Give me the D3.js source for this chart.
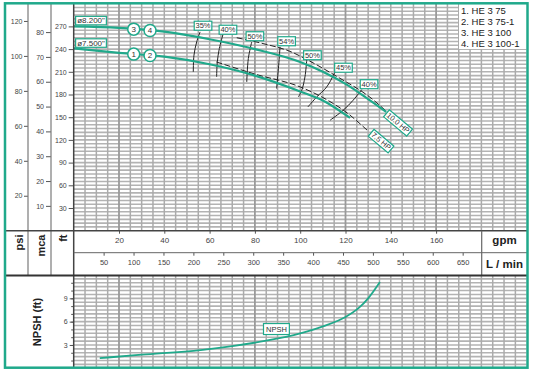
<!DOCTYPE html>
<html><head><meta charset="utf-8">
<script src="https://cdn.jsdelivr.net/npm/d3@7"></script>
<style>body{margin:0;background:#fff} svg{display:block;font-family:"Liberation Sans",Arial,sans-serif}</style>
</head><body><svg id="c" width="534" height="375"></svg>
<script>
// ---------- data ----------
const curve82Gpm = [0, 20, 40, 60, 80, 100, 110, 120, 130, 138];
const curve82Ft  = [270, 268, 263, 253, 240, 223, 210, 194, 174, 157];
const curve75Gpm = [0, 20, 40, 60, 80, 100, 110, 122];
const curve75Ft  = [241, 235, 230, 220, 205, 184, 172, 149];
const hp10Gpm = [72, 84, 95.5, 104.3, 117.5, 130.8, 138, 146];
const hp10Ft  = [255, 247, 237, 224, 201.5, 176.4, 158, 136];
const hp75Gpm = [63, 80, 100, 110, 121, 129.5];
const hp75Ft  = [223, 207, 190, 176, 155, 133];
const effLabels = ["35%", "40%", "50%", "54%", "50%", "45%", "40%"];
const effArcGpm = [[55.8,54.3,53.1,52.8],[65.9,64.3,63.4,63.1],[78.6,77.1,76.4],[91.1,90.5,89.6],[102.9,102.1,100.7,99.2],[115.4,111.7,107.3,103.4],[127.2,123.4,119.0,113.2]];
const effArcFt  = [[262.7,249.5,231.9,209.9],[259.3,240.8,223.1,203.3],[249.5,227.6,196.6],[242.9,218.7,187.9],[226.2,203.3,185.7,176.8],[209.9,190.0,176.8,163.6],[186.6,172.5,159.2,146.0]];
const effLabelGpm = [57.1, 68.1, 80, 94, 105.4, 119.1, 130.4];
const effLabelFt  = [270.9, 265.6, 257, 250.4, 231.9, 215.4, 193.6];
const npshGpm = [11.5, 30, 56, 70, 85, 100, 110, 120, 126, 130, 135.2];
const npshFt  = [1.3, 1.75, 2.35, 2.85, 3.55, 4.5, 5.4, 6.6, 7.8, 9.0, 11.1];
const gpmTicks  = [20, 40, 60, 80, 100, 120, 140, 160];
const lminTicks = [50, 100, 150, 200, 250, 300, 350, 400, 450, 500, 550, 600, 650];
const ftTicks   = [30, 60, 90, 120, 150, 180, 210, 240, 270];
const psiTicks  = [20, 40, 60, 80, 100, 120];
const mcaTicks  = [10, 20, 30, 40, 50, 60, 70, 80];
const npshTicks = [3, 6, 9];
const legendItems = ["1. HE 3 75", "2. HE 3 75-1", "3. HE 3 100", "4. HE 3 100-1"];
const impellerLabels = ['ø8.200"', 'ø7.500"'];
const hpLabels = ["10.0 HP", "7.5 HP"];
const hpLabelGpm = [143.2, 135.7];
const hpLabelFt  = [142.4, 118.3];
const markerGpm = [26.5, 33.7];
const markerTop = ["3", "4"];
const markerBottom = ["1", "2"];
const npshLabelGpm = 89.5, npshLabelFt = 5.05;
const majorGpmLines = [20, 80, 120, 160];
const LPM_PER_GPM = 3.785, FT_PER_PSI = 2.31, FT_PER_M = 3.281;

// ---------- setup ----------
const TEAL = "#20a98b";
const svg = d3.select("#c");
const X0 = 73.7, X1 = 526.7, YT = 3.7, YB = 230.7, NT = 276, NB = 367;
const x  = d3.scaleLinear().domain([0, 200]).range([X0, X1]);
const xL = d3.scaleLinear().domain([0, 200 * LPM_PER_GPM]).range([X0, X1]);
const yFt  = d3.scaleLinear().domain([0, 300]).range([YB, YT]);
const yPsi = d3.scaleLinear().domain([0, 300 / FT_PER_PSI]).range([YB, YT]);
const yMca = d3.scaleLinear().domain([0, 300 / FT_PER_M]).range([YB, YT]);
const yN   = d3.scaleLinear().domain([0, 12]).range([368.3, 275]);

svg.append("rect").attr("width", 534).attr("height", 375).attr("fill", "#fff");

const defs = svg.append("defs");
defs.append("clipPath").attr("id", "cm").append("rect").attr("x", X0).attr("y", YT).attr("width", X1 - X0).attr("height", YB - YT);
defs.append("clipPath").attr("id", "cn").append("rect").attr("x", X0).attr("y", NT).attr("width", X1 - X0).attr("height", NB - NT);

// ---------- grids ----------
function grid(g, y0, y1, hVals, yScale) {
  g.selectAll(".h").data(hVals).join("line")
    .attr("x1", X0).attr("x2", X1).attr("y1", d => yScale(d)).attr("y2", d => yScale(d))
    .attr("stroke", "#b3b3b3").attr("stroke-width", 1.6);
  g.selectAll(".v").data(d3.range(5, 200, 5)).join("line")
    .attr("y1", y0).attr("y2", y1).attr("x1", d => x(d)).attr("x2", d => x(d))
    .attr("stroke", d => majorGpmLines.includes(d) ? "#9a9a9a" : "#ababab")
    .attr("stroke-width", d => majorGpmLines.includes(d) ? 1.8 : 1.5);
}
const gm = svg.append("g").attr("clip-path", "url(#cm)");
grid(gm, YT, YB, d3.range(5, 300, 5), yFt);
const gn = svg.append("g").attr("clip-path", "url(#cn)");
grid(gn, NT, NB, d3.range(0.5, 12, 0.5), yN);

// ---------- curves ----------
const zip = (a, b) => a.map((v, i) => [v, b[i]]);
const lineFt = d3.line().x(d => x(d[0])).y(d => yFt(d[1])).curve(d3.curveMonotoneX);
const arcLine = d3.line().x(d => x(d[0])).y(d => yFt(d[1])).curve(d3.curveCatmullRom);

effArcGpm.forEach((arr, i) => {
  gm.append("path").attr("d", arcLine(zip(arr, effArcFt[i])))
    .attr("fill", "none").attr("stroke", "#222").attr("stroke-width", 1);
});
[[hp10Gpm, hp10Ft], [hp75Gpm, hp75Ft]].forEach(([g, f]) => {
  gm.append("path").attr("d", lineFt(zip(g, f)))
    .attr("fill", "none").attr("stroke", "#222").attr("stroke-width", 1).attr("stroke-dasharray", "6,2.5");
});
[[curve82Gpm, curve82Ft], [curve75Gpm, curve75Ft]].forEach(([g, f]) => {
  gm.append("path").attr("d", lineFt(zip(g, f)))
    .attr("fill", "none").attr("stroke", TEAL).attr("stroke-width", 2.2);
});
const lineN = d3.line().x(d => x(d[0])).y(d => yN(d[1])).curve(d3.curveMonotoneX);
gn.append("path").attr("d", lineN(zip(npshGpm, npshFt)))
  .attr("fill", "none").attr("stroke", TEAL).attr("stroke-width", 1.8);

// ---------- labels ----------
function boxLabel(cx, cy, text, fs, rot, padX, h) {
  const g = svg.append("g").attr("transform", `translate(${cx},${cy}) rotate(${rot || 0})`);
  const r = g.append("rect");
  const t = g.append("text").text(text).attr("font-size", fs).attr("text-anchor", "middle")
    .attr("dominant-baseline", "central").attr("fill", "#333");
  const w = t.node().getComputedTextLength() + 2 * padX;
  r.attr("x", -w / 2).attr("y", -h / 2).attr("width", w).attr("height", h)
    .attr("fill", "#fff").attr("stroke", TEAL).attr("stroke-width", 1.2);
}
effLabels.forEach((s, i) => boxLabel(x(effLabelGpm[i]), yFt(effLabelFt[i]), s, 7.5, 0, 1.3, 9));
hpLabels.forEach((s, i) => boxLabel(x(hpLabelGpm[i]), yFt(hpLabelFt[i]), s, 7.5, 40, 1.5, 9));
boxLabel(x(0) + 17.3, yFt(curve82Ft[0]) - 5.8, impellerLabels[0], 8, 0, 1.5, 8.5);
boxLabel(x(0) + 17.3, yFt(curve75Ft[0]) - 5.3, impellerLabels[1], 8, 0, 1.5, 8.5);
boxLabel(x(npshLabelGpm), yN(npshLabelFt), "NPSH", 7.5, 0, 2.5, 11);

function interp(xs, ys, v) {
  for (let i = 1; i < xs.length; i++) if (v <= xs[i]) {
    const t = (v - xs[i - 1]) / (xs[i] - xs[i - 1]); return ys[i - 1] + t * (ys[i] - ys[i - 1]);
  }
  return ys[ys.length - 1];
}
function marker(g, f, label) {
  const m = svg.append("g").attr("transform", `translate(${x(g)},${yFt(f)})`);
  m.append("circle").attr("r", 6).attr("fill", "#fff").attr("stroke", TEAL).attr("stroke-width", 1.5);
  m.append("text").text(label).attr("font-size", 8).attr("text-anchor", "middle")
    .attr("dominant-baseline", "central").attr("fill", "#333");
}
markerGpm.forEach((g, i) => {
  marker(g, interp(curve82Gpm, curve82Ft, g), markerTop[i]);
  marker(g, interp(curve75Gpm, curve75Ft, g), markerBottom[i]);
});

svg.append("rect").attr("x", 459).attr("y", 4).attr("width", 68).attr("height", 45).attr("fill", "#fff");
legendItems.forEach((s, i) => svg.append("text").text(s).attr("x", 461).attr("y", 14 + i * 11.1)
  .attr("font-size", 9.5).attr("fill", "#222"));

// ---------- axes ----------
function styleAxis(g, fs) {
  g.attr("font-family", null).attr("font-size", fs);
  g.select(".domain").remove();
  g.selectAll("text").attr("fill", "#444");
  g.selectAll("line").attr("stroke", "#555");
}
styleAxis(svg.append("g").attr("transform", "translate(28,0)")
  .call(d3.axisLeft(yPsi).tickValues(psiTicks).tickSize(4).tickPadding(1.5)), 7);
styleAxis(svg.append("g").attr("transform", "translate(51,0)")
  .call(d3.axisLeft(yMca).tickValues(mcaTicks).tickSize(5).tickPadding(2)), 7);
styleAxis(svg.append("g").attr("transform", `translate(${X0},0)`)
  .call(d3.axisLeft(yFt).tickValues(ftTicks).tickSize(5).tickPadding(2)), 7);
styleAxis(svg.append("g").attr("transform", `translate(${X0},0)`)
  .call(d3.axisLeft(yN).tickValues(d3.range(1, 12)).tickSize(2.5).tickFormat("")), 7);
styleAxis(svg.append("g").attr("transform", `translate(${X0},0)`)
  .call(d3.axisLeft(yN).tickValues(npshTicks).tickSize(4).tickPadding(2)), 7);
styleAxis(svg.append("g").attr("transform", `translate(0,${YB})`)
  .call(d3.axisBottom(x).tickValues(gpmTicks).tickSize(3).tickPadding(4)), 8);
styleAxis(svg.append("g").attr("transform", "translate(0,252.7)")
  .call(d3.axisBottom(xL).tickValues(lminTicks).tickSize(3).tickPadding(4)), 7.5);

// ---------- frame lines ----------
const L = (x1, y1, x2, y2, c, w) => svg.append("line").attr("x1", x1).attr("y1", y1).attr("x2", x2).attr("y2", y2).attr("stroke", c).attr("stroke-width", w);
L(28, YT, 28, 275.5, "#7a7a7a", 1.2);
L(51, YT, 51, 275.5, "#7a7a7a", 1.2);
L(X0, YT, X0, NB, "#444", 1.5);
L(5, YB, 527, YB, "#444", 1.5);
L(X0, 252.7, 527, 252.7, "#666", 1);
L(481.7, YB, 481.7, 275.5, "#666", 1.2);
L(5, 275.5, 527, 275.5, "#333", 2);

const unitText = (tx, ty, s, fs, anchor) => svg.append("text").text(s)
  .attr("transform", `translate(${tx},${ty}) rotate(-90)`).attr("text-anchor", anchor)
  .attr("dominant-baseline", "central").attr("font-size", fs).attr("font-weight", "bold").attr("fill", "#222");
unitText(18.5, 234.5, "psi", 11, "end");
unitText(40.5, 234.5, "mca", 11, "end");
unitText(63, 234.5, "ft", 11, "end");
unitText(37, 322, "NPSH (ft)", 11, "middle");
svg.append("text").text("gpm").attr("x", 504.5).attr("y", 240).attr("text-anchor", "middle")
  .attr("dominant-baseline", "central").attr("font-size", 11.5).attr("font-weight", "bold").attr("fill", "#222");
svg.append("text").text("L / min").attr("x", 504.5).attr("y", 263.5).attr("text-anchor", "middle")
  .attr("dominant-baseline", "central").attr("font-size", 11.5).attr("font-weight", "bold").attr("fill", "#222");

svg.append("rect").attr("x", 5).attr("y", 3.3).attr("width", 522.5).attr("height", 364.4)
  .attr("fill", "none").attr("stroke", TEAL).attr("stroke-width", 2.5);
</script></body></html>
